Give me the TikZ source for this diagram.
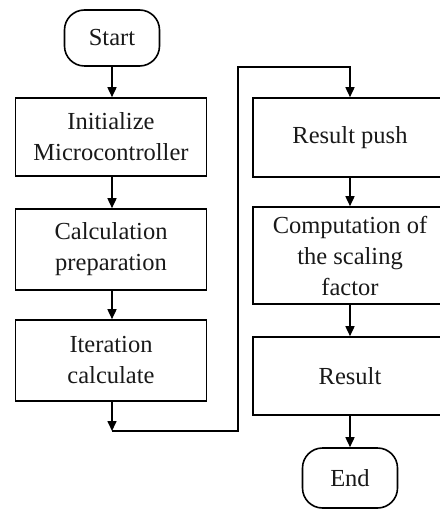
\documentclass[tikz,border=0pt]{standalone}
\usepackage{fontspec}
\setmainfont{Liberation Serif}
\usetikzlibrary{arrows.meta}
\begin{document}
\begin{tikzpicture}[x=1pt,y=-1pt,
  every node/.style={font=\fontsize{24.5}{31}\selectfont, align=center, text=black!90},
  procbox/.style={draw, line width=1.6pt, minimum width=191pt, inner sep=0pt},
  termbox/.style={draw, line width=1.6pt, rounded corners=20pt, minimum width=95pt, inner sep=0pt},
  arr/.style={line width=1.6pt, -{Triangle[length=10pt,width=9pt]}}]
\useasboundingbox (0,0) rectangle (439,510);
% left column
\node[termbox, minimum height=56pt] (start) at (112,38) {Start};
\node[procbox, minimum height=78pt] (init) at (111,137) {Initialize\\Microcontroller};
\node[procbox, minimum height=81pt] (calc) at (111,249.5) {Calculation\\preparation};
\node[procbox, minimum height=81pt] (iter) at (111,360.5) {Iteration\\calculate};
% right column
\node[procbox, minimum width=194pt, minimum height=79pt] (rpush) at (350,137.5) {Result push};
\node[procbox, minimum width=194pt, minimum height=97pt] (comp) at (350,255.5) {Computation of\\the scaling\\factor};
\node[procbox, minimum width=194pt, minimum height=78pt] (res) at (350,376) {Result};
\node[termbox, minimum height=60pt] (end) at (350,478) {End};
% coordinates of the loop
\coordinate (c1) at (112,431);
\coordinate (c2) at (238,431);
\coordinate (c3) at (238,67);
% connectors
\draw[arr] (start.south -| 112,0) -- (init.north -| 112,0);
\draw[arr] (init.south -| 112,0) -- (calc.north -| 112,0);
\draw[arr] (calc.south -| 112,0) -- (iter.north -| 112,0);
\draw[arr] (iter.south -| 112,0) -- (c1);
\draw[arr] (c1) -- (c2) -- (c3) -| (rpush.north);
\draw[arr] (rpush) -- (comp);
\draw[arr] (comp) -- (res);
\draw[arr] (res) -- (end);
\end{tikzpicture}
\end{document}
